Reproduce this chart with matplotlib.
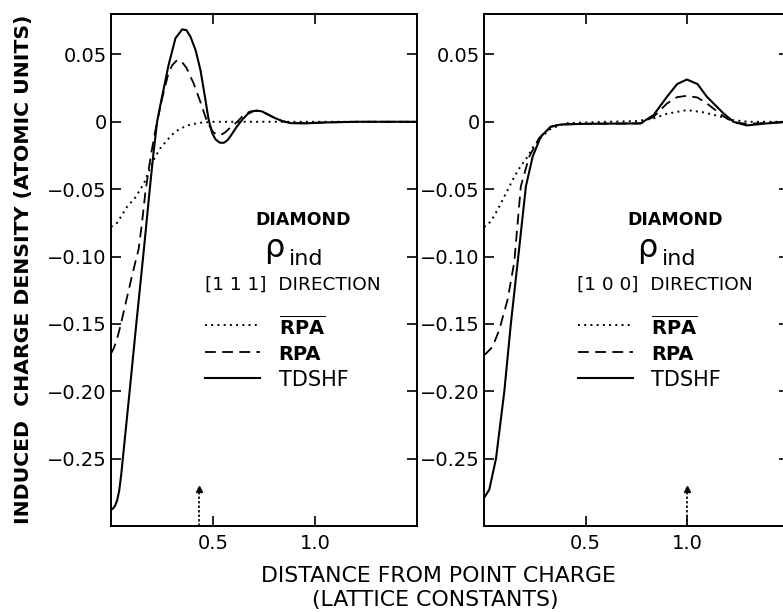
import matplotlib
matplotlib.use("Agg")
import matplotlib.pyplot as plt

plt.rcParams['font.family'] = ['DejaVu Sans']
plt.rcParams['mathtext.fontset'] = 'dejavusans'

# ---------------- data: [111] direction (left panel) ----------------
x111_tdshf = [0, 0.01, 0.02, 0.03, 0.04, 0.05, 0.058, 0.091, 0.124, 0.161, 0.19, 0.207, 0.226, 0.248,
              0.282, 0.316, 0.349, 0.37, 0.39, 0.415, 0.439, 0.46, 0.478, 0.495, 0.512, 0.533,
              0.553, 0.57, 0.586, 0.615, 0.643, 0.67, 0.695, 0.717, 0.74, 0.765, 0.80, 0.84,
              0.88, 0.95, 1.05, 1.2, 1.5]
y111_tdshf = [-0.288, -0.287, -0.285, -0.281, -0.274, -0.262, -0.250, -0.2005, -0.150, -0.095, -0.050, -0.025,
              0.0, 0.017, 0.042, 0.062, 0.0686, 0.068, 0.063, 0.053, 0.038, 0.019, 0.002, -0.008,
              -0.013, -0.0155, -0.0156, -0.0138, -0.0106, -0.004, 0.0015, 0.0058, 0.0078, 0.0083,
              0.0077, 0.0058, 0.003, 0.0005, -0.001, -0.0012, -0.0005, 0.0, 0.0]

x111_rpa = [0, 0.014, 0.030, 0.047, 0.079, 0.105, 0.136, 0.152, 0.168, 0.184, 0.200, 0.213,
            0.226, 0.25, 0.28, 0.30, 0.324, 0.345, 0.37, 0.405, 0.44, 0.471, 0.50, 0.52, 0.537,
            0.56, 0.59, 0.619, 0.65, 0.68, 0.708, 0.735, 0.765, 0.80, 0.84, 0.88, 0.95, 1.05,
            1.2, 1.5]
y111_rpa = [-0.172, -0.168, -0.161, -0.151, -0.130, -0.113, -0.094, -0.075, -0.053, -0.036,
            -0.021, -0.010, 0.0, 0.017, 0.035, 0.042, 0.0458, 0.045, 0.040, 0.0285, 0.014, 0.0,
            -0.0075, -0.0097, -0.0099, -0.0078, -0.0035, 0.0, 0.005, 0.0075, 0.0082, 0.0077,
            0.0058, 0.003, 0.0005, -0.0008, -0.001, -0.0005, 0.0, 0.0]

x111_rpabar = [0, 0.03, 0.079, 0.12, 0.161, 0.19, 0.21, 0.24, 0.275, 0.31, 0.341, 0.39, 0.439,
               0.50, 1.5]
y111_rpabar = [-0.078, -0.075, -0.063, -0.056, -0.046, -0.035, -0.028, -0.020, -0.0136, -0.008,
               -0.0049, -0.002, -0.0007, 0.0, 0.0]

# ---------------- data: [100] direction (right panel) ----------------
x100_tdshf = [0, 0.005, 0.026, 0.059, 0.10, 0.132, 0.17, 0.206, 0.239, 0.279, 0.328, 0.377,
              0.5, 0.77, 0.834, 0.90, 0.95, 0.998, 1.05, 1.096, 1.178, 1.227, 1.292, 1.39, 1.5]
y100_tdshf = [-0.279, -0.278, -0.273, -0.250, -0.200, -0.150, -0.098, -0.048, -0.026, -0.011,
              -0.0037, -0.002, -0.0015, -0.0012, 0.005, 0.0186, 0.028, 0.0314, 0.028, 0.0186,
              0.0062, 0.0, -0.0027, -0.0012, 0.0]

x100_rpa = [0, 0.01, 0.042, 0.075, 0.116, 0.149, 0.165, 0.181, 0.222, 0.27, 0.328, 0.377, 0.5,
            0.77, 0.834, 0.90, 0.95, 0.998, 1.05, 1.096, 1.178, 1.23, 1.292, 1.39, 1.5]
y100_rpa = [-0.173, -0.172, -0.167, -0.1545, -0.132, -0.104, -0.076, -0.048, -0.026, -0.0123,
            -0.0037, -0.002, -0.0015, -0.0012, 0.0037, 0.0136, 0.0183, 0.0193, 0.018, 0.0136,
            0.004, -0.0005, -0.0015, -0.0008, 0.0]

x100_rpabar = [0, 0.018, 0.05, 0.083, 0.115, 0.149, 0.18, 0.214, 0.245, 0.279, 0.32, 0.361,
               0.41, 0.6, 0.75, 0.834, 0.9, 0.998, 1.08, 1.16, 1.227, 1.3, 1.5]
y100_rpabar = [-0.078, -0.0767, -0.070, -0.0605, -0.051, -0.0408, -0.033, -0.026, -0.018,
               -0.012, -0.006, -0.0032, -0.001, 0.0, 0.0005, 0.0025, 0.006, 0.0087, 0.007,
               0.004, 0.0012, 0.0, 0.0]

# arrow positions (nearest-neighbour distance)
arrow_x = [0.433, 1.0]

xticks = [0.5, 1.0]
xtick_labels = ['0.5', '1.0']
yticks = [0.05, 0.0, -0.05, -0.10, -0.15, -0.20, -0.25]
ytick_labels = ['0.05', '0', '\u22120.05', '\u22120.10', '\u22120.15', '\u22120.20', '\u22120.25']
directions = ['[1 1 1]  DIRECTION', '[1 0 0]  DIRECTION']
legend_names = [r'$\overline{\mathbf{RPA}}$', 'RPA', 'TDSHF']

W, H = 783, 612
fig = plt.figure(figsize=(W / 100, H / 100), dpi=100)
ax1 = fig.add_axes([111 / W, 1 - 526 / H, 306 / W, 512 / H])
ax2 = fig.add_axes([484 / W, 1 - 526 / H, 305 / W, 512 / H])

dotted = (0, (1.0, 2.2))
dashed = (0, (6, 3.5))
styles = [dotted, dashed, '-']
lws = [1.4, 1.3, 1.5]

panels = [
    (ax1, [(x111_rpabar, y111_rpabar), (x111_rpa, y111_rpa), (x111_tdshf, y111_tdshf)], arrow_x[0], directions[0]),
    (ax2, [(x100_rpabar, y100_rpabar), (x100_rpa, y100_rpa), (x100_tdshf, y100_tdshf)], arrow_x[1], directions[1]),
]

for ax, series, ax_x, dtext in panels:
    for (xs, ys), ls, lw in zip(series, styles, lws):
        ax.plot(xs, ys, color='black', linestyle=ls, linewidth=lw, clip_on=True)
    ax.set_xlim(0, 1.5)
    ax.set_ylim(-0.30, 0.08)
    ax.set_xticks(xticks)
    ax.set_xticklabels(xtick_labels)
    ax.set_yticks(yticks)
    ax.set_yticklabels(ytick_labels)
    ax.tick_params(direction='in', top=True, right=True, length=7, width=1.2,
                   labelsize=14, colors='black')
    ax.tick_params(axis='x', pad=6)
    ax.tick_params(axis='y', pad=3)
    for sp in ax.spines.values():
        sp.set_linewidth(1.4)
    # arrow
    ax.plot([ax_x, ax_x], [-0.30, -0.2745], color='black', linestyle=(0, (1.5, 1.2)), linewidth=1.2)
    ax.plot([ax_x], [-0.2725], marker='^', markersize=5, color='black')
    # annotations
    ax.text(0.627, 0.598, 'DIAMOND', transform=ax.transAxes, ha='center', va='center',
            fontsize=12.5, fontweight='bold')
    ax.text(0.535, 0.512, '\u03c1', transform=ax.transAxes, ha='center', va='bottom',
            fontsize=23)
    ax.text(0.582, 0.510, 'ind', transform=ax.transAxes, ha='left', va='baseline',
            fontsize=16)
    ax.text(0.306, 0.4707, dtext, transform=ax.transAxes, ha='left', va='center',
            fontsize=13.3)
    ly = [0.3926, 0.3398, 0.289]
    tw = ['bold', 'bold', 'normal']
    fs = [14, 14, 15]
    for yy, ls, lw, name, w, f in zip(ly, styles, lws, legend_names, tw, fs):
        ax.plot([0.307, 0.487], [yy, yy], transform=ax.transAxes, color='black',
                linestyle=ls, linewidth=lw)
        ax.text(0.548, yy - 0.004, name, transform=ax.transAxes, ha='left', va='center',
                fontsize=f, fontweight=w)

fig.text(24 / W, 1 - 269 / H, 'INDUCED  CHARGE DENSITY (ATOMIC UNITS)', rotation=90,
         ha='center', va='center', fontsize=14.7, fontweight='bold')
fig.text(438 / W, 1 - 576 / H, 'DISTANCE FROM POINT CHARGE', ha='center', va='center',
         fontsize=15.8)
fig.text(435 / W, 1 - 600 / H, '(LATTICE CONSTANTS)', ha='center', va='center',
         fontsize=15.8)

fig.savefig('out.png', dpi=100)
